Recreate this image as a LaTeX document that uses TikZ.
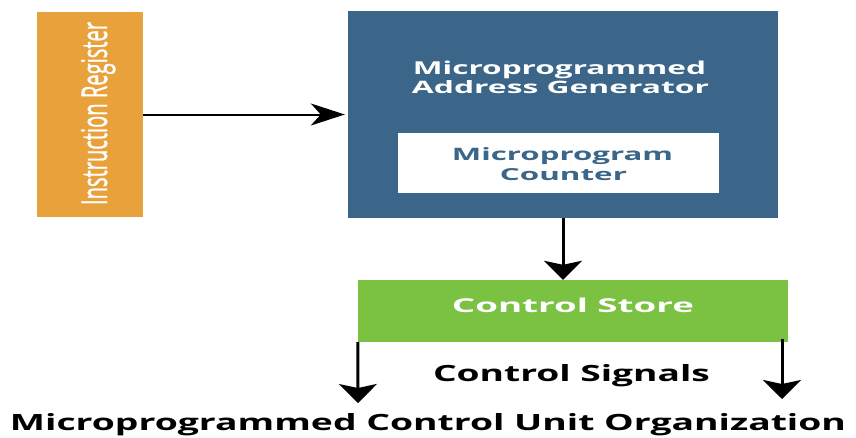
\documentclass[tikz,border=0pt]{standalone}
\usepackage{fontspec}
\setmainfont{Open Sans}
\newfontfamily\irfont{Open Sans}[FakeBold=1.2]
\usetikzlibrary{arrows.meta}
\definecolor{irorange}{HTML}{E9A23B}
\definecolor{genblue}{HTML}{3B6589}
\definecolor{storegreen}{HTML}{7BC142}
\newcommand{\fitt}[3]{\resizebox{#1}{#2}{#3}}
\tikzset{
  blockbox/.style={draw=none, inner sep=0pt, rectangle},
  lbl/.style={inner sep=0pt, anchor=base},
  bigarrow/.style={line width=3pt, -{Stealth[length=19pt,width=38pt,inset=4pt]}},
  thinarrow/.style={line width=2pt, -{Stealth[length=34pt,width=22pt,inset=10pt]}}
}
\begin{document}
\begin{tikzpicture}[x=1pt,y=-1pt]
\useasboundingbox[fill=white] (0,0) rectangle (856,437);
% boxes
\node[blockbox, fill=irorange, minimum width=106pt, minimum height=205pt] (ir) at (90,114.5) {};
\node[blockbox, fill=genblue, minimum width=430pt, minimum height=207pt] (agen) at (563,114.5) {};
\node[blockbox, fill=white, minimum width=321pt, minimum height=60pt] (pc) at (558.5,163) {};
\node[blockbox, fill=storegreen, minimum width=430pt, minimum height=62pt] (store) at (573,311) {};
% texts
\node[lbl, rotate=90, text=white] (irt) at (107,113.5) {\fitt{183pt}{26pt}{\irfont Instruction Register}};
\node[lbl, text=white] (agt1) at (559.5,74.5) {\fitt{293pt}{13.5pt}{\bfseries Microprogrammed}};
\node[lbl, text=white] (agt2) at (560.5,93) {\fitt{297pt}{13pt}{\bfseries Address Generator}};
\node[lbl, text=genblue] (pct1) at (562.5,160) {\fitt{221pt}{13pt}{\bfseries Microprogram}};
\node[lbl, text=genblue] (pct2) at (563.5,180) {\fitt{127pt}{12pt}{\bfseries Counter}};
\node[lbl, text=white] (cst) at (573,312.5) {\fitt{242pt}{14.5pt}{\bfseries Control Store}};
\node[lbl] (sig) at (571.5,381) {\fitt{277pt}{17pt}{\bfseries Control Signals}};
\node[lbl] (cap) at (428,430) {\fitt{836pt}{17pt}{\bfseries Microprogrammed Control Unit Organization}};
% connectors
\coordinate (leftend) at (358,403);
\coordinate (rightstart) at (782,339);
\coordinate (rightend) at (782,399);
\draw[thinarrow, shorten >=3pt] (ir.east) -- (agen.west);
\draw[bigarrow] (agen.south) -- (agen.south |- store.north);
\draw[bigarrow] (store.south west) -- (leftend);
\draw[bigarrow] (rightstart) -- (rightend);
\end{tikzpicture}
\end{document}
